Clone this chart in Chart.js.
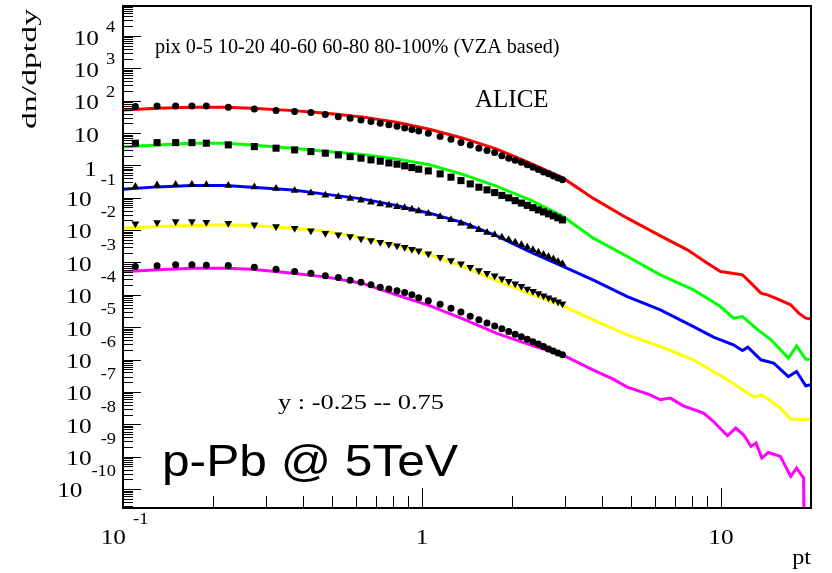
<!DOCTYPE html>
<html>
<head>
<meta charset="utf-8">
<script src="https://cdn.jsdelivr.net/npm/chart.js@4.4.0/dist/chart.umd.min.js"></script>
<style>
html, body { margin: 0; padding: 0; background: #fff; }
#wrap { width: 832px; height: 573px; }
</style>
</head>
<body>
<div id="wrap"><canvas id="spectra" width="832" height="573"></canvas></div>
<script>
// data points: pt bin centres (GeV/c)
var ptData = [0.11, 0.13, 0.15, 0.17, 0.19, 0.225, 0.275, 0.325, 0.375, 0.425, 0.475, 0.525, 0.575, 0.625, 0.675, 0.725, 0.775, 0.825, 0.875, 0.925, 0.975,
  1.05, 1.15, 1.25, 1.35, 1.45, 1.55, 1.65, 1.75, 1.85, 1.95, 2.05, 2.15, 2.25, 2.35, 2.45, 2.55, 2.65, 2.75, 2.85, 2.95];

// measured dn/dptdy, scaled per centrality class
var data0005 = [65.5, 68.8, 68.8, 68.8, 68.8, 62.7, 55.6, 49.2, 45.9, 42.7, 37.1, 32.1, 28.7, 25.4, 22.5, 20.1, 18.1, 16.2, 14.4, 12.9, 11.6,
  9.87, 7.75, 6.44, 5.06, 4.30, 3.40, 2.86, 2.48, 1.97, 1.67, 1.43, 1.24, 1.04, 0.88, 0.75, 0.63, 0.55, 0.47, 0.41, 0.36];
var data1020 = [4.85, 5.06, 5.06, 5.06, 4.85, 4.30, 3.81, 3.40, 3.01, 2.67, 2.38, 2.11, 1.87, 1.67, 1.48, 1.35, 1.19, 1.09, 0.965, 0.855, 0.763,
  0.676, 0.546, 0.432, 0.339, 0.268, 0.212, 0.175, 0.1445, 0.1184, 0.0992, 0.0813, 0.0685, 0.0582, 0.0494, 0.0422, 0.0366, 0.0318, 0.0276, 0.0239, 0.0207];
var data4060 = [0.2246, 0.2499, 0.2589, 0.2589, 0.2535, 0.2412, 0.2168, 0.192, 0.169, 0.1415, 0.1202, 0.1065, 0.0944, 0.0842, 0.072, 0.0638, 0.0582, 0.053, 0.0494, 0.0438, 0.0393,
  0.0329, 0.0257, 0.0208, 0.0164, 0.01289, 0.01033, 0.00841, 0.00714, 0.00598, 0.005, 0.00419, 0.00351, 0.00298, 0.00249, 0.00209, 0.00177, 0.0015, 0.00128, 0.00108, 0.000908];
var data6080 = [0.0156, 0.0171, 0.01837, 0.01837, 0.0176, 0.0164, 0.01454, 0.01288, 0.01149, 0.00949, 0.00805, 0.00714, 0.00633, 0.00537, 0.00477, 0.00419, 0.00368, 0.00327, 0.00294, 0.00258, 0.0023,
  0.00185, 0.00146, 0.00115, 0.000908, 0.000718, 0.000564, 0.000469, 0.000387, 0.000317, 0.000261, 0.000219, 0.000183, 0.000153, 0.00013, 0.000111, 9.46e-5, 8.09e-5, 7.02e-5, 6.09e-5, 5.28e-5];
var data80100 = [0.000749, 0.000787, 0.000846, 0.000846, 0.000816, 0.000804, 0.000718, 0.000623, 0.000525, 0.000469, 0.000387, 0.000343, 0.000281, 0.000247, 0.000204, 0.000173, 0.000153, 0.000133, 0.000118, 0.0001, 8.09e-5,
  6.63e-5, 5.17e-5, 3.89e-5, 2.93e-5, 2.17e-5, 1.69e-5, 1.34e-5, 1.09e-5, 8.92e-6, 7.37e-6, 6.12e-6, 5.05e-6, 4.23e-6, 3.59e-6, 3.03e-6, 2.52e-6, 2.12e-6, 1.83e-6, 1.6e-6, 1.4e-6];

// model curves
var ptLineLow = [0.1, 0.13, 0.17, 0.22, 0.27, 0.37, 0.48, 0.63, 0.82, 1.06, 1.37, 1.78, 2.3, 2.96];
var ptLine0005 = ptLineLow.concat([3.73, 4.86, 6.27, 7.72, 9.01, 9.96, 10.5, 11.8, 12.6, 13.6, 14.3, 15.5, 17.1, 18.2, 19.2, 20]);
var line0005 = [51.8, 58.4, 62.7, 62.7, 58.4, 49.2, 40.9, 31.5, 21.6, 13.1, 6.92, 3.17, 1.17, 0.411,
  0.0971, 0.0234, 0.00665, 0.00246, 0.000954, 0.000525, 0.000489, 0.000415, 0.00023, 0.000113, 0.0001, 7.38e-5, 4.92e-5, 2.72e-5, 1.91e-5, 1.78e-5];
var ptLine1020 = ptLineLow.concat([3.73, 4.86, 6.27, 8.09, 9.96, 11.0, 11.8, 13.3, 14.7, 16.8, 17.9, 19.2, 20]);
var line1020 = [3.73, 4.30, 4.85, 4.85, 4.30, 3.40, 2.67, 2.19, 1.59, 1.04, 0.527, 0.225, 0.086, 0.0266,
  0.00577, 0.00153, 0.000415, 0.000143, 4.36e-5, 1.91e-5, 2.14e-5, 8.31e-6, 4.08e-6, 1.11e-6, 2.66e-6, 1.03e-6, 1.03e-6];
var ptLine4060 = ptLineLow.concat([3.73, 4.86, 6.27, 8.09, 9.44, 11.0, 11.8, 12.3, 13.6, 15.0, 16.8, 17.9, 19.2, 20]);
var line4060 = [0.1815, 0.2168, 0.2377, 0.2377, 0.2122, 0.175, 0.1272, 0.0923, 0.0582, 0.0334, 0.0171, 0.00665, 0.00213, 0.00076,
  0.000291, 8.87e-5, 3.45e-5, 1.05e-5, 4.94e-6, 2.86e-6, 1.91e-6, 2.43e-6, 9.84e-7, 7.78e-7, 3.0e-7, 4.28e-7, 1.55e-7, 1.66e-7];
var ptLine6080 = ptLineLow.concat([3.73, 4.86, 6.27, 8.09, 10.5, 12.9, 13.7, 15.8, 17.1, 18.5, 20]);
var line6080 = [0.01134, 0.01288, 0.01383, 0.01454, 0.01383, 0.01149, 0.00903, 0.00577, 0.00338, 0.00172, 0.00076, 0.000271, 0.0001075, 4.58e-5,
  1.69e-5, 5.82e-6, 2.54e-6, 9.84e-7, 2.37e-7, 6.94e-8, 8.17e-8, 3.17e-8, 1.45e-8, 1.38e-8, 1.45e-8];
var ptLine80100 = ptLineLow.concat([3.73, 4.36, 4.86, 5.80, 6.27, 6.77, 7.48, 8.74, 9.44, 10.5, 11.2, 11.9, 12.6, 13.1, 13.7, 14.4, 15.8, 17.1, 17.9, 18.9, 19.0]);
var line80100 = [0.000514, 0.000593, 0.000669, 0.000669, 0.000623, 0.000469, 0.000353, 0.00023, 0.0001, 4.65e-5, 1.82e-5, 6.48e-6, 2.86e-6, 1.36e-6,
  4.83e-7, 2.49e-7, 1.41e-7, 8.17e-8, 5.73e-8, 6.46e-8, 3.74e-8, 2.22e-8, 1.22e-8, 4.43e-9, 7.65e-9, 4.75e-9, 2.07e-9, 2.63e-9, 9.07e-10, 1.35e-9, 1.02e-9, 2.45e-10, 4.45e-10, 2.19e-10, 1e-13];

var yDecades = [-10, -9, -8, -7, -6, -5, -4, -3, -2, -1, 0, 1, 2, 3, 4];
var xDecades = [-1, 0, 1];

function pts(xs, ys) {
  return xs.map(function (x, i) { return { x: x, y: ys[i] }; });
}

function curve(xs, ys, color) {
  return { data: pts(xs, ys), showLine: true, borderColor: color, borderWidth: 3, pointRadius: 0, order: 2 };
}

function markers(ys, style, radius, rot) {
  return { data: pts(ptData, ys), showLine: false, pointStyle: style, pointRadius: radius, pointRotation: rot || 0,
    backgroundColor: '#000', borderColor: '#000', borderWidth: 0, order: 1 };
}

var SERIF = '"Liberation Serif", "Times New Roman", serif';

// text squeezed/stretched horizontally (the source picture is a bit wide)
function txt(ctx, s, x, y, font, align, sx) {
  ctx.save();
  ctx.font = font;
  ctx.textAlign = align;
  ctx.translate(x, y);
  ctx.scale(sx || 1, 1);
  ctx.fillText(s, 0, 0);
  ctx.restore();
}

function txtWidth(ctx, s, font, sx) {
  ctx.save();
  ctx.font = font;
  var w = ctx.measureText(s).width * (sx || 1);
  ctx.restore();
  return w;
}

// ROOT-like frame, ticks and labels
var rootFrame = {
  id: 'rootFrame',
  afterDatasetsDraw: function (chart) {
    var ctx = chart.ctx, a = chart.chartArea;
    var xs = chart.scales.x, ys = chart.scales.y;
    ctx.save();
    ctx.strokeStyle = '#000';
    ctx.lineWidth = 1;
    for (var e = -11; e <= 4; e++) {
      for (var m = 1; m < 10; m++) {
        var v = m * Math.pow(10, e);
        if (v < ys.min || v > ys.max) continue;
        var py = Math.round(ys.getPixelForValue(v)) + 0.5;
        ctx.beginPath();
        ctx.moveTo(a.left, py);
        ctx.lineTo(a.left + (m === 1 ? 18 : 10), py);
        ctx.stroke();
      }
    }
    for (var e2 = -1; e2 <= 1; e2++) {
      for (var m2 = 1; m2 < 10; m2++) {
        var v2 = m2 * Math.pow(10, e2);
        if (v2 < xs.min || v2 > xs.max) continue;
        var px = Math.round(xs.getPixelForValue(v2)) + 0.5;
        ctx.beginPath();
        ctx.moveTo(px, a.bottom);
        ctx.lineTo(px, a.bottom - (m2 === 1 ? 20 : 12));
        ctx.stroke();
      }
    }
    ctx.lineWidth = 2;
    ctx.strokeRect(a.left, a.top, a.right - a.left, a.bottom - a.top);

    ctx.fillStyle = '#000';
    ctx.textBaseline = 'middle';
    var big = '22px ' + SERIF, small = '16px ' + SERIF, sx = 1.15;
    // y labels
    yDecades.forEach(function (d) {
      var py = ys.getPixelForValue(Math.pow(10, d));
      if (d === 0) {
        txt(ctx, '1', 97, py + 5, big, 'right', sx);
      } else if (d === 1) {
        txt(ctx, '10', 99, py + 3, big, 'right', sx);
      } else if (d > 1) {
        txt(ctx, '10', 99, py + 3, big, 'right', sx);
        txt(ctx, String(d), 106, py - 8, small, 'left', sx);
      } else {
        var ex = String(d);
        txt(ctx, ex, 116, py - 17, small, 'right', sx);
        var w = txtWidth(ctx, ex, small, sx);
        txt(ctx, '10', 116 - w - 9, py + 2.5, big, 'right', sx);
      }
    });
    // x labels
    xDecades.forEach(function (d) {
      var px = xs.getPixelForValue(Math.pow(10, d));
      if (d === 0) {
        txt(ctx, '1', px, 538, big, 'center', sx);
      } else if (d === 1) {
        txt(ctx, '10', px, 538, big, 'center', sx);
      } else {
        txt(ctx, '10', px + 3, 538, big, 'right', sx);
        txt(ctx, String(d), px + 10, 520, small, 'left', sx);
      }
    });
    // axis titles
    txt(ctx, 'pt', 811, 558, '21px ' + SERIF, 'right', sx);
    var tf = '22px ' + SERIF;
    var tw = txtWidth(ctx, 'dn/dptdy', tf, 1);
    ctx.save();
    ctx.translate(30, 9);
    ctx.rotate(-Math.PI / 2);
    txt(ctx, 'dn/dptdy', 0, 0, tf, 'right', 120 / tw);
    ctx.restore();

    // annotations
    ctx.textBaseline = 'alphabetic';
    txt(ctx, 'pix 0-5 10-20 40-60 60-80 80-100% (VZA based)', 155, 53, '20px ' + SERIF, 'left', 1.01);
    txt(ctx, 'ALICE', 475, 107, '25px ' + SERIF, 'left', 1);
    var yf = '22px ' + SERIF, ys2 = 'y : -0.25 -- 0.75';
    txt(ctx, ys2, 278, 409, yf, 'left', 166 / txtWidth(ctx, ys2, yf, 1));
    var pf = '44px "Liberation Sans", Arial, sans-serif', ps = 'p-Pb @ 5TeV';
    txt(ctx, ps, 162, 476, pf, 'left', 296 / txtWidth(ctx, ps, pf, 1));
    ctx.restore();
  }
};

var ctx = document.getElementById('spectra');
var chart = new Chart(ctx, {
  type: 'scatter',
  data: {
    datasets: [
      markers(data0005, 'circle', 3.5),
      markers(data1020, 'rect', 5),
      markers(data4060, 'triangle', 4.5),
      markers(data6080, 'triangle', 4.5, 180),
      markers(data80100, 'circle', 3.5),
      curve(ptLine0005, line0005, '#ff0000'),
      curve(ptLine1020, line1020, '#00ff00'),
      curve(ptLine4060, line4060, '#0000ff'),
      curve(ptLine6080, line6080, '#ffff00'),
      curve(ptLine80100, line80100, '#ff00ff')
    ]
  },
  options: {
    responsive: false,
    animation: false,
    layout: { padding: { left: 123, top: 6, right: 21, bottom: 65 } },
    plugins: { legend: { display: false }, tooltip: { enabled: false } },
    scales: {
      x: { type: 'logarithmic', min: 0.1, max: 20, display: false },
      y: { type: 'logarithmic', min: 2.6e-11, max: 8.4e4, display: false }
    }
  },
  plugins: [rootFrame]
});
</script>
</body>
</html>
